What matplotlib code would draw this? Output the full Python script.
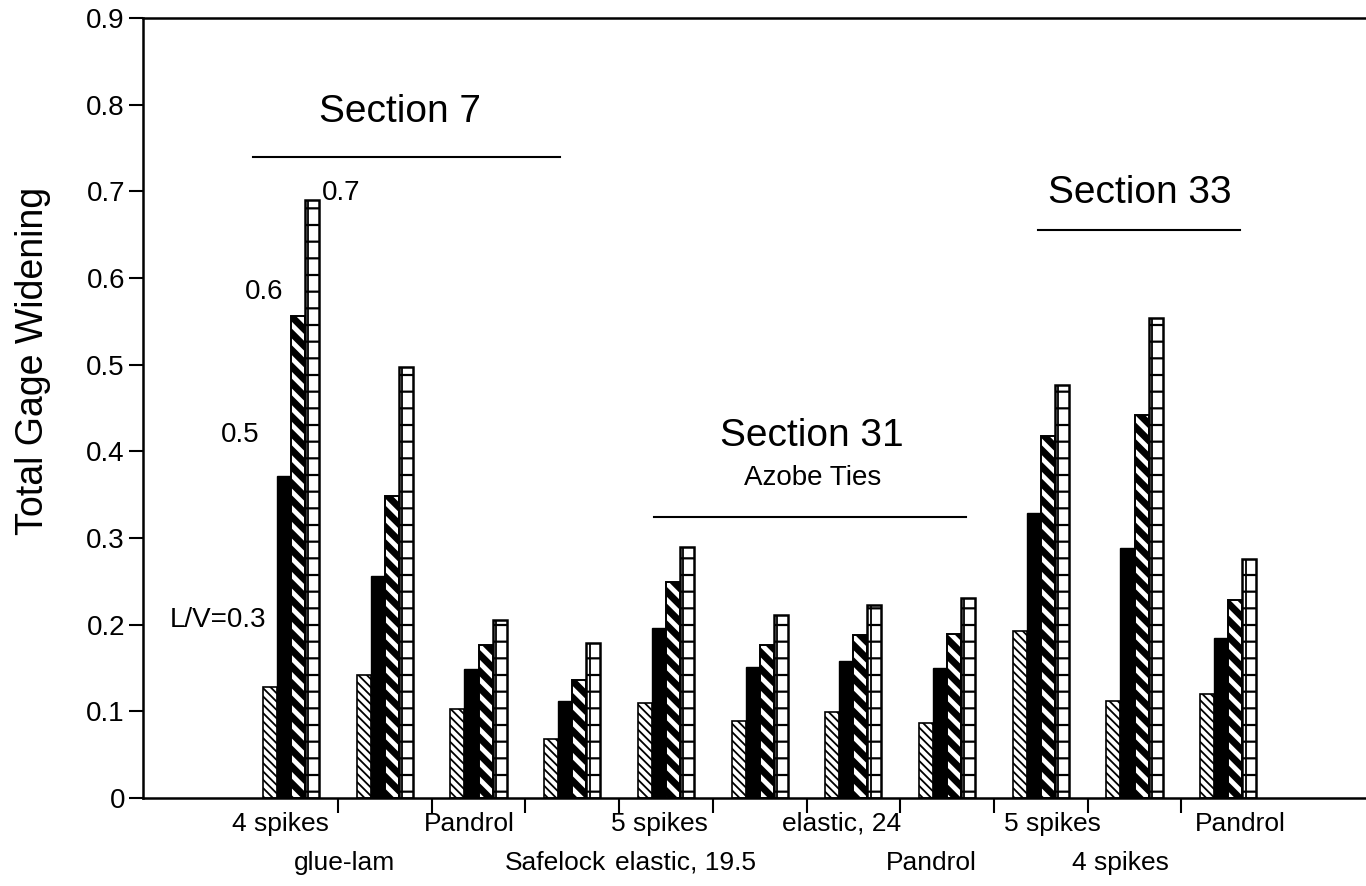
import matplotlib
matplotlib.use("Agg")
import matplotlib.pyplot as plt
import matplotlib.transforms as mtransforms
import numpy as np

plt.rcParams['font.family'] = ['Liberation Sans', 'DejaVu Sans']

# ---------------- data ----------------
categories = ["4 spikes", "glue-lam", "Pandrol", "Safelock", "5 spikes",
              "elastic, 19.5", "elastic, 24", "Pandrol", "5 spikes",
              "4 spikes", "Pandrol"]
lv_labels = ["L/V=0.3", "0.5", "0.6", "0.7"]
lv_03 = [0.128, 0.142, 0.103, 0.068, 0.110, 0.089, 0.099, 0.086, 0.193, 0.112, 0.120]
lv_05 = [0.371, 0.256, 0.149, 0.112, 0.196, 0.151, 0.158, 0.150, 0.329, 0.289, 0.185]
lv_06 = [0.556, 0.349, 0.176, 0.136, 0.249, 0.177, 0.188, 0.189, 0.418, 0.442, 0.229]
lv_07 = [0.690, 0.497, 0.205, 0.179, 0.290, 0.211, 0.223, 0.231, 0.477, 0.554, 0.276]
yticks = [0, 0.1, 0.2, 0.3, 0.4, 0.5, 0.6, 0.7, 0.8, 0.9]
ytick_labels = ["0", "0.1", "0.2", "0.3", "0.4", "0.5", "0.6", "0.7", "0.8", "0.9"]
ylabel = "Total Gage Widening"

# ---------------- layout ----------------
fig = plt.figure(figsize=(13.66, 8.86), dpi=100)
ax = fig.add_axes([0.1047, 0.0993, 0.8953, 0.8804])

x = np.arange(len(categories))
w = 0.15
offs = [-1.5 * w, -0.5 * w, 0.5 * w, 1.5 * w]

# series 1: fine diagonal hatch
b0 = ax.bar(x + offs[0], lv_03, w, facecolor="white", edgecolor="black",
            hatch="\\\\\\\\", linewidth=1.2, zorder=2)
for p in b0:
    if hasattr(p, "set_hatch_linewidth"):
        p.set_hatch_linewidth(1.3)

# series 2: solid black
ax.bar(x + offs[1], lv_05, w, facecolor="black", edgecolor="black",
       linewidth=1.0, zorder=2)

# series 3: bold white stripes on black
b2 = ax.bar(x + offs[2], lv_06, w, facecolor="black", edgecolor="white",
            hatch="\\\\", linewidth=0, zorder=2)
for p in b2:
    if hasattr(p, "set_hatch_linewidth"):
        p.set_hatch_linewidth(3.5)
ax.bar(x + offs[2], lv_06, w, fill=False, edgecolor="black", linewidth=1.4, zorder=3)

# series 4: boxes (horizontal lines with an inner vertical line)
b3 = ax.bar(x + offs[3], lv_07, w, facecolor="white", edgecolor="black",
            hatch="-", linewidth=1.8, zorder=2)
for p in b3:
    if hasattr(p, "set_hatch_linewidth"):
        p.set_hatch_linewidth(1.6)
ax.vlines(x + offs[3] - w / 2 + 0.035, 0, lv_07, colors="black", linewidth=1.3, zorder=3)

# axes
ax.set_xlim(-1.58, 11.47)
ax.set_ylim(0, 0.9)
ax.set_yticks(yticks)
ax.set_yticklabels(ytick_labels, fontsize=20)
ax.tick_params(axis="y", direction="out", length=10, width=1.5, pad=3)
ax.set_xticks(x[:-1] + 0.5)
ax.set_xticklabels([])
ax.tick_params(axis="x", direction="out", length=11, width=1.5)
for s in ["left", "bottom", "top"]:
    ax.spines[s].set_linewidth(1.8)
ax.spines["right"].set_visible(False)
ax.set_ylabel(ylabel, fontsize=27)
ax.yaxis.set_label_coords(-0.075, 0.56)

# category labels on two staggered lines
label_shift = [-0.11, -0.43, -0.10, -0.18, -0.07, -0.79, -0.13, -0.17, 0.12, -0.15, 0.13]
trans = mtransforms.blended_transform_factory(ax.transData, ax.transAxes)
for i, (lab, sh) in enumerate(zip(categories, label_shift)):
    yy = -0.033 if i % 2 == 0 else -0.083
    ax.text(i + sh, yy, lab, transform=trans, ha="center", va="center", fontsize=19)

# L/V annotations
ax.text(-0.78, 0.205, lv_labels[0], ha="center", va="center", fontsize=20)
ax.text(-0.54, 0.419, lv_labels[1], ha="center", va="center", fontsize=20)
ax.text(-0.29, 0.584, lv_labels[2], ha="center", va="center", fontsize=20)
ax.text(0.33, 0.698, lv_labels[3], ha="left", va="center", fontsize=20)

# section annotations
ax.text(1.16, 0.791, "Section 7", ha="center", va="center", fontsize=28)
ax.plot([-0.41, 2.87], [0.740, 0.740], color="black", lw=1.5)
ax.text(5.56, 0.418, "Section 31", ha="center", va="center", fontsize=28)
ax.text(5.56, 0.369, "Azobe Ties", ha="center", va="center", fontsize=20)
ax.plot([3.87, 7.20], [0.324, 0.324], color="black", lw=1.5)
ax.text(9.06, 0.698, "Section 33", ha="center", va="center", fontsize=28)
ax.plot([7.97, 10.13], [0.655, 0.655], color="black", lw=1.5)

fig.savefig("out.png", dpi=100)
